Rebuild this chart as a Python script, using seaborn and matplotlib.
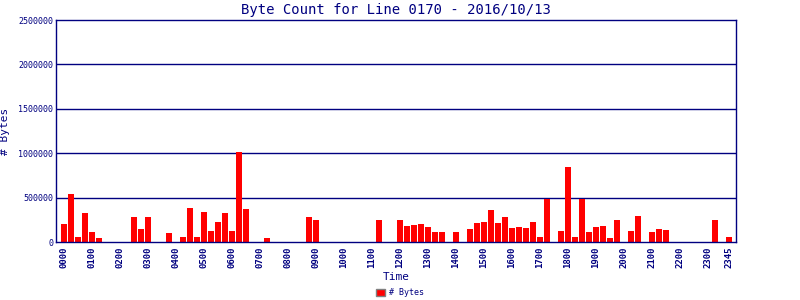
import matplotlib
matplotlib.use("Agg")
import matplotlib.pyplot as plt
from matplotlib.patches import Patch
import seaborn as sns
import pandas as pd

# 15-minute intervals, 0000 .. 2345
times = [f"{h:02d}{m:02d}" for h in range(24) for m in (0, 15, 30, 45)]
byte_counts = [
    200000, 540000, 56000, 325000, 112000, 45000, 0, 0,          # 00
    0, 0, 280000, 146000, 280000, 0, 0, 100000,                  # 02
    0, 56000, 381000, 56000, 336000, 123000, 224000, 325000,     # 04
    123000, 1019000, 369000, 0, 0, 45000, 0, 0,                  # 06
    0, 0, 0, 280000, 246000, 0, 0, 0,                            # 08
    0, 0, 0, 0, 0, 246000, 0, 0,                                 # 10
    246000, 179000, 190000, 201000, 168000, 112000, 112000, 0,   # 12
    112000, 0, 146000, 213000, 224000, 358000, 213000, 280000,   # 14
    157000, 168000, 157000, 224000, 56000, 481000, 0, 123000,    # 16
    840000, 56000, 481000, 112000, 168000, 179000, 45000, 246000,# 18
    0, 123000, 291000, 0, 112000, 146000, 134000, 0,             # 20
    0, 0, 0, 0, 0, 246000, 0, 56000,                             # 22
]
tick_labels = [f"{h:02d}00" for h in range(24)] + ["2345"]
y_ticks = [0, 500000, 1000000, 1500000, 2000000, 2500000]

title = "Byte Count for Line 0170 - 2016/10/13"
navy = "#000080"

df = pd.DataFrame({"time": times, "bytes": byte_counts})

sns.set_style("white")
plt.rcParams["font.family"] = ["DejaVu Sans Mono"]

fig = plt.figure(figsize=(8, 3), dpi=100)
ax = fig.add_axes([0.07, 0.1933, 0.85, 0.74])

sns.barplot(data=df, x="time", y="bytes", order=times, color="#ff0000",
            saturation=1, width=0.86, ax=ax, errorbar=None, zorder=3,
            linewidth=0, edgecolor="none")

ax.set_xlim(-1.14, 95.98)
ax.set_ylim(0, 2500000)
ax.set_yticks(y_ticks)
ax.set_yticklabels([str(v) for v in y_ticks], fontsize=6, color=navy)
tick_pos = [times.index(t) for t in tick_labels]
ax.set_xticks(tick_pos)
ax.set_xticklabels(tick_labels, rotation=90, fontsize=6.5, color=navy,
                   fontweight="bold")
ax.tick_params(axis="both", length=0, pad=2)
ax.tick_params(axis="x", pad=3)

for v in y_ticks[1:-1]:
    ax.axhline(v, color=navy, linewidth=1.0, zorder=2)

for s in ax.spines.values():
    s.set_color(navy)
    s.set_linewidth(1.0)
    s.set_visible(True)
    s.set_zorder(4)

ax.set_xlabel("Time", fontsize=8, color=navy, labelpad=3)
ax.set_ylabel("# Bytes", fontsize=8, color=navy)
ax.yaxis.set_label_coords(-0.068, 0.5)
ax.set_title(title, fontsize=10, color=navy, pad=4)

fig.legend(handles=[Patch(facecolor="#ff0000", edgecolor="gray", linewidth=1)],
           labels=["# Bytes"], loc="lower center", bbox_to_anchor=(0.5, -0.015),
           frameon=False, fontsize=6, handlelength=1.1, handleheight=0.9,
           handletextpad=0.4, labelcolor=navy)

fig.savefig("out.png", dpi=100, facecolor="white")
